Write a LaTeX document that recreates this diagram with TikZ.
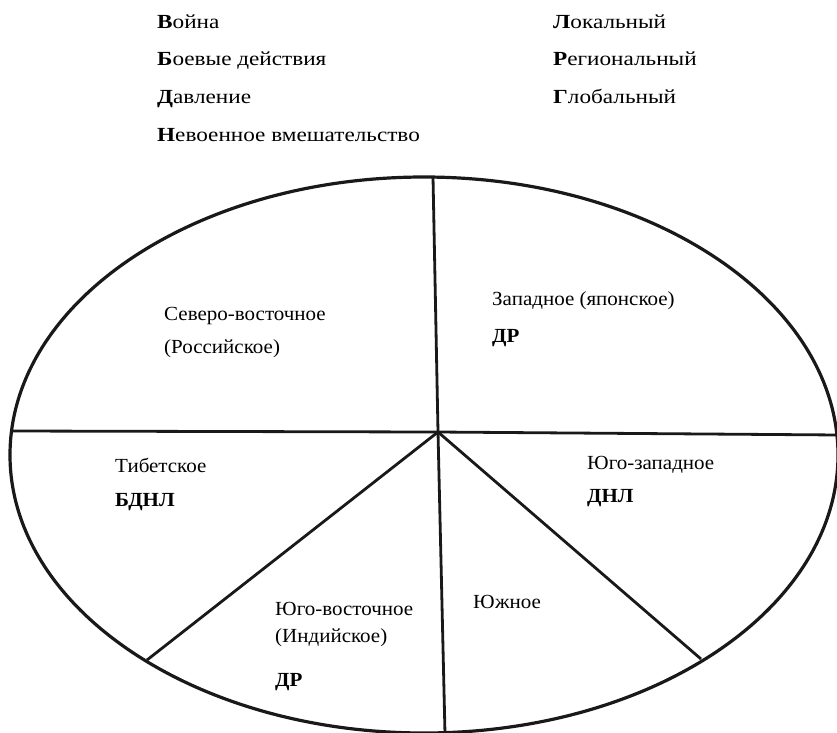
\documentclass[tikz,border=0pt]{standalone}
\usepackage{fontspec}
\newfontfamily\hdrfont{Liberation Serif}[FakeStretch=1.16]
\newfontfamily\inrfont{Liberation Serif}[FakeStretch=1.05]
\newcommand\Hd{\hdrfont\fontsize{20}{24}\selectfont}
\newcommand\In{\inrfont\fontsize{20}{24}\selectfont}
\newcommand\Ib{\inrfont\fontsize{20}{24}\selectfont\bfseries}
\begin{document}
\begin{tikzpicture}[x=1pt,y=-1pt,
  hd/.style={anchor=base west,inner sep=0pt},
  lbl/.style={anchor=base west,inner sep=0pt},
  edge/.style={line width=2.8pt,draw=black!90}]
\useasboundingbox (0,0) rectangle (837,732);
% header
\node[hd] (w1) at (157,28) {\Hd{\bfseries В}ойна};
\node[hd] (w2) at (157,65.5) {\Hd{\bfseries Б}оевые действия};
\node[hd] (w3) at (157,103) {\Hd{\bfseries Д}авление};
\node[hd] (w4) at (157,141) {\Hd{\bfseries Н}евоенное вмешательство};
\node[hd] (s1) at (553,28) {\Hd{\bfseries Л}окальный};
\node[hd] (s2) at (553,65.5) {\Hd{\bfseries Р}егиональный};
\node[hd] (s3) at (553,103) {\Hd{\bfseries Г}лобальный};
% ellipse
\draw[line width=3.2pt,draw=black!90] (424,455) ellipse [x radius=414, y radius=278];
\coordinate (c) at (438,432);
\coordinate (top) at (433,177);
\coordinate (bot) at (445,734);
\coordinate (lft) at (13,431);
\coordinate (rgt) at (840,435);
\coordinate (sw) at (147,660);
\coordinate (se) at (701,659);
\draw[edge] (top) -- (c) -- (bot);
\draw[edge] (lft) -- (c) -- (rgt);
\draw[edge] (c) -- (sw);
\draw[edge] (c) -- (se);
% sector labels
\node[lbl] (ne1) at (164,320) {\In Северо-восточное};
\node[lbl] (ne2) at (164,353) {\In (Российское)};
\node[lbl] (wj1) at (492,305) {\In Западное (японское)};
\node[lbl] (wj2) at (492,342) {\Ib ДР};
\node[lbl] (tb1) at (115,472) {\In Тибетское};
\node[lbl] (tb2) at (115,506) {\Ib БДНЛ};
\node[lbl] (sw1) at (587,469) {\In Юго-западное};
\node[lbl] (sw2) at (587,502) {\Ib ДНЛ};
\node[lbl] (se1) at (275,615) {\In Юго-восточное};
\node[lbl] (se2) at (275,642) {\In (Индийское)};
\node[lbl] (se3) at (275,686) {\Ib ДР};
\node[lbl] (so1) at (473,608) {\In Южное};
\end{tikzpicture}
\end{document}
